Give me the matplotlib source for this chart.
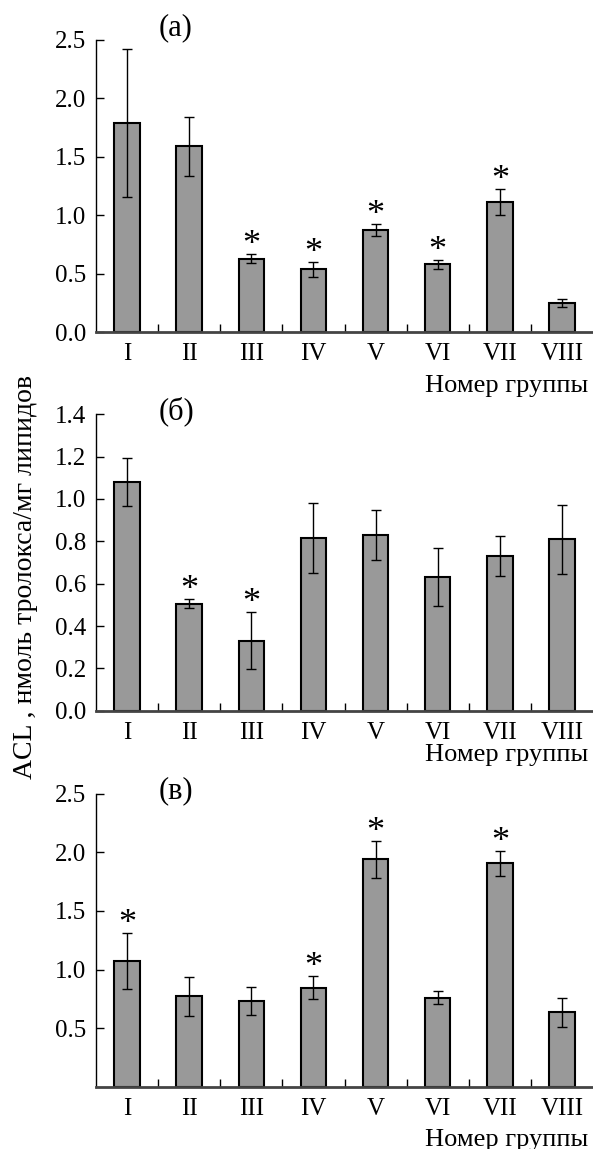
import numpy as np
import matplotlib
matplotlib.use("Agg")
import matplotlib.pyplot as plt

plt.rcParams['font.family'] = ['Liberation Serif', 'DejaVu Serif']

groups = ["I", "II", "III", "IV", "V", "VI", "VII", "VIII"]

# panel (a)
vals_a = [1.79, 1.59, 0.63, 0.54, 0.875, 0.58, 1.115, 0.25]
err_a = [0.63, 0.25, 0.04, 0.065, 0.05, 0.035, 0.11, 0.035]
star_a = [False, False, True, True, True, True, True, False]

# panel (б)
vals_b = [1.08, 0.505, 0.33, 0.815, 0.83, 0.63, 0.73, 0.81]
err_b = [0.115, 0.022, 0.134, 0.164, 0.117, 0.137, 0.093, 0.162]
star_b = [False, True, True, False, False, False, False, False]

# panel (в)
vals_c = [1.07, 0.77, 0.73, 0.845, 1.94, 0.76, 1.905, 0.635]
err_c = [0.24, 0.17, 0.12, 0.10, 0.16, 0.057, 0.105, 0.122]
star_c = [True, False, False, True, True, False, True, False]

W, H = 593, 1149
fig = plt.figure(figsize=(W / 100, H / 100), dpi=100)

def px_axes(top, bottom):
    left = 96
    return [left / W, 1 - bottom / H, (W - left) / W, (bottom - top) / H]

panels = [
    (px_axes(40, 332.3), vals_a, err_a, star_a, 2.5, [0.0, 0.5, 1.0, 1.5, 2.0, 2.5], "(a)", 28, 392),
    (px_axes(414.3, 710.7), vals_b, err_b, star_b, 1.4, [0.0, 0.2, 0.4, 0.6, 0.8, 1.0, 1.2, 1.4], "(б)", 411, 761),
    (px_axes(793.7, 1086.7), vals_c, err_c, star_c, 2.5, [0.5, 1.0, 1.5, 2.0, 2.5], "(в)", 791, 1146),
]

x = np.arange(len(groups))
for rect, vals, errs, stars, ymax, yt, letter, ly, xl_y in panels:
    ax = fig.add_axes(rect)
    ax.bar(x, vals, width=0.41, color="#999999", edgecolor="black", linewidth=1.5, zorder=2)
    ax.errorbar(x, vals, yerr=errs, fmt="none", ecolor="black", elinewidth=1.0,
                capsize=3.5, capthick=1.0, zorder=3)
    for xi, v, e, s in zip(x, vals, errs, stars):
        if s:
            ax.text(xi, v + e, "*", ha="center", va="baseline", fontsize=26)
    ax.set_xlim(-0.5, 7.5)
    ax.set_ylim(0, ymax)
    ax.set_yticks(yt)
    ax.set_yticklabels(["%.1f" % t for t in yt], fontsize=18)
    ax.set_xticks(x)
    ax.set_xticklabels(groups, fontsize=18)
    ax.set_xticks(x[:-1] + 0.5, minor=True)
    ax.tick_params(axis="x", which="major", length=0, pad=8)
    ax.tick_params(axis="x", which="minor", direction="in", length=6, width=1)
    ax.tick_params(axis="y", direction="in", length=6, width=1, pad=7)
    ax.spines["top"].set_visible(False)
    ax.spines["right"].set_visible(False)
    ax.spines["left"].set_linewidth(1.0)
    ax.spines["bottom"].set_linewidth(2.0)
    ax.spines["bottom"].set_color("#444444")
    ax.patch.set_alpha(0)
    fig.text(176 / W, 1 - ly / H, letter, ha="center", va="center", fontsize=22)
    fig.text(588 / W, 1 - xl_y / H, "Номер группы", ha="right", va="baseline", fontsize=19)

fig.text(26 / W, 1 - 577 / H, "ACL , нмоль тролокса/мг липидов", rotation=90,
         ha="center", va="center", fontsize=20)

fig.savefig("out.png", dpi=100)
